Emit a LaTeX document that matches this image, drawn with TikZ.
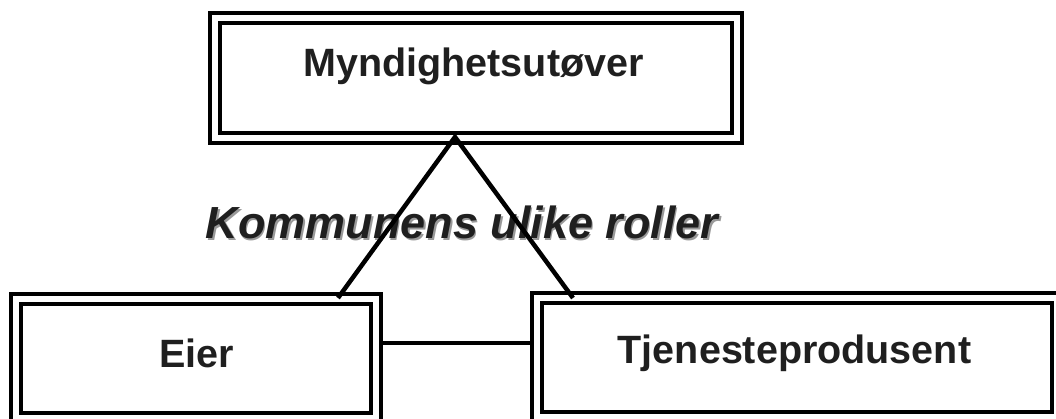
\documentclass[tikz,border=0pt]{standalone}
\usepackage{fontspec}
\setmainfont{Liberation Sans}
\usetikzlibrary{positioning}
\begin{document}
\begin{tikzpicture}[x=1pt,y=1pt,
  rolle/.style={draw=black, double=white, line width=4pt, double distance=6pt,
    outer sep=7pt, inner sep=0pt, minimum width=#1, minimum height=119pt},
  rolletekst/.style={anchor=base, text=black!88, font=\bfseries\fontsize{39.5}{39.5}\selectfont},
  linje/.style={line width=4.5pt}]
\useasboundingbox (0,0) rectangle (1056,418);
% boksene
\node[rolle=522pt, minimum height=120.5pt] (myn) at (476,339.75) {};
\node[rolle=360.5pt] (eier) at (195.75,59.5) {};
\node[rolle=520.5pt] (tjen) at (796.75,60.25) {};
\node[rolletekst] (mynTekst) at (473.5,341) {Myndighetsutøver};
\node[rolletekst] (eierTekst) at (196.5,51) {Eier};
\node[rolletekst] (tjenTekst) at (794.5,55) {Tjenesteprodusent};
% tittel med skygge
\node[anchor=base, text=black!40, font=\bfseries\itshape\fontsize{45}{45}\selectfont] (skygge) at (463.5,177.5) {Kommunens ulike roller};
\node[anchor=base, text=black!88, font=\bfseries\itshape\fontsize{45}{45}\selectfont] (tittel) at (462,179) {Kommunens ulike roller};
% linjene
\coordinate (topp) at (455,281);
\coordinate (eierTopp) at (338,120);
\coordinate (tjenTopp) at (573,120);
\draw[linje] (eierTopp) -- (topp) -- (tjenTopp);
\draw[linje] ([yshift=15.5pt]eier.east) -- ([yshift=15.5pt]eier.east -| tjen.west);
\end{tikzpicture}
\end{document}
